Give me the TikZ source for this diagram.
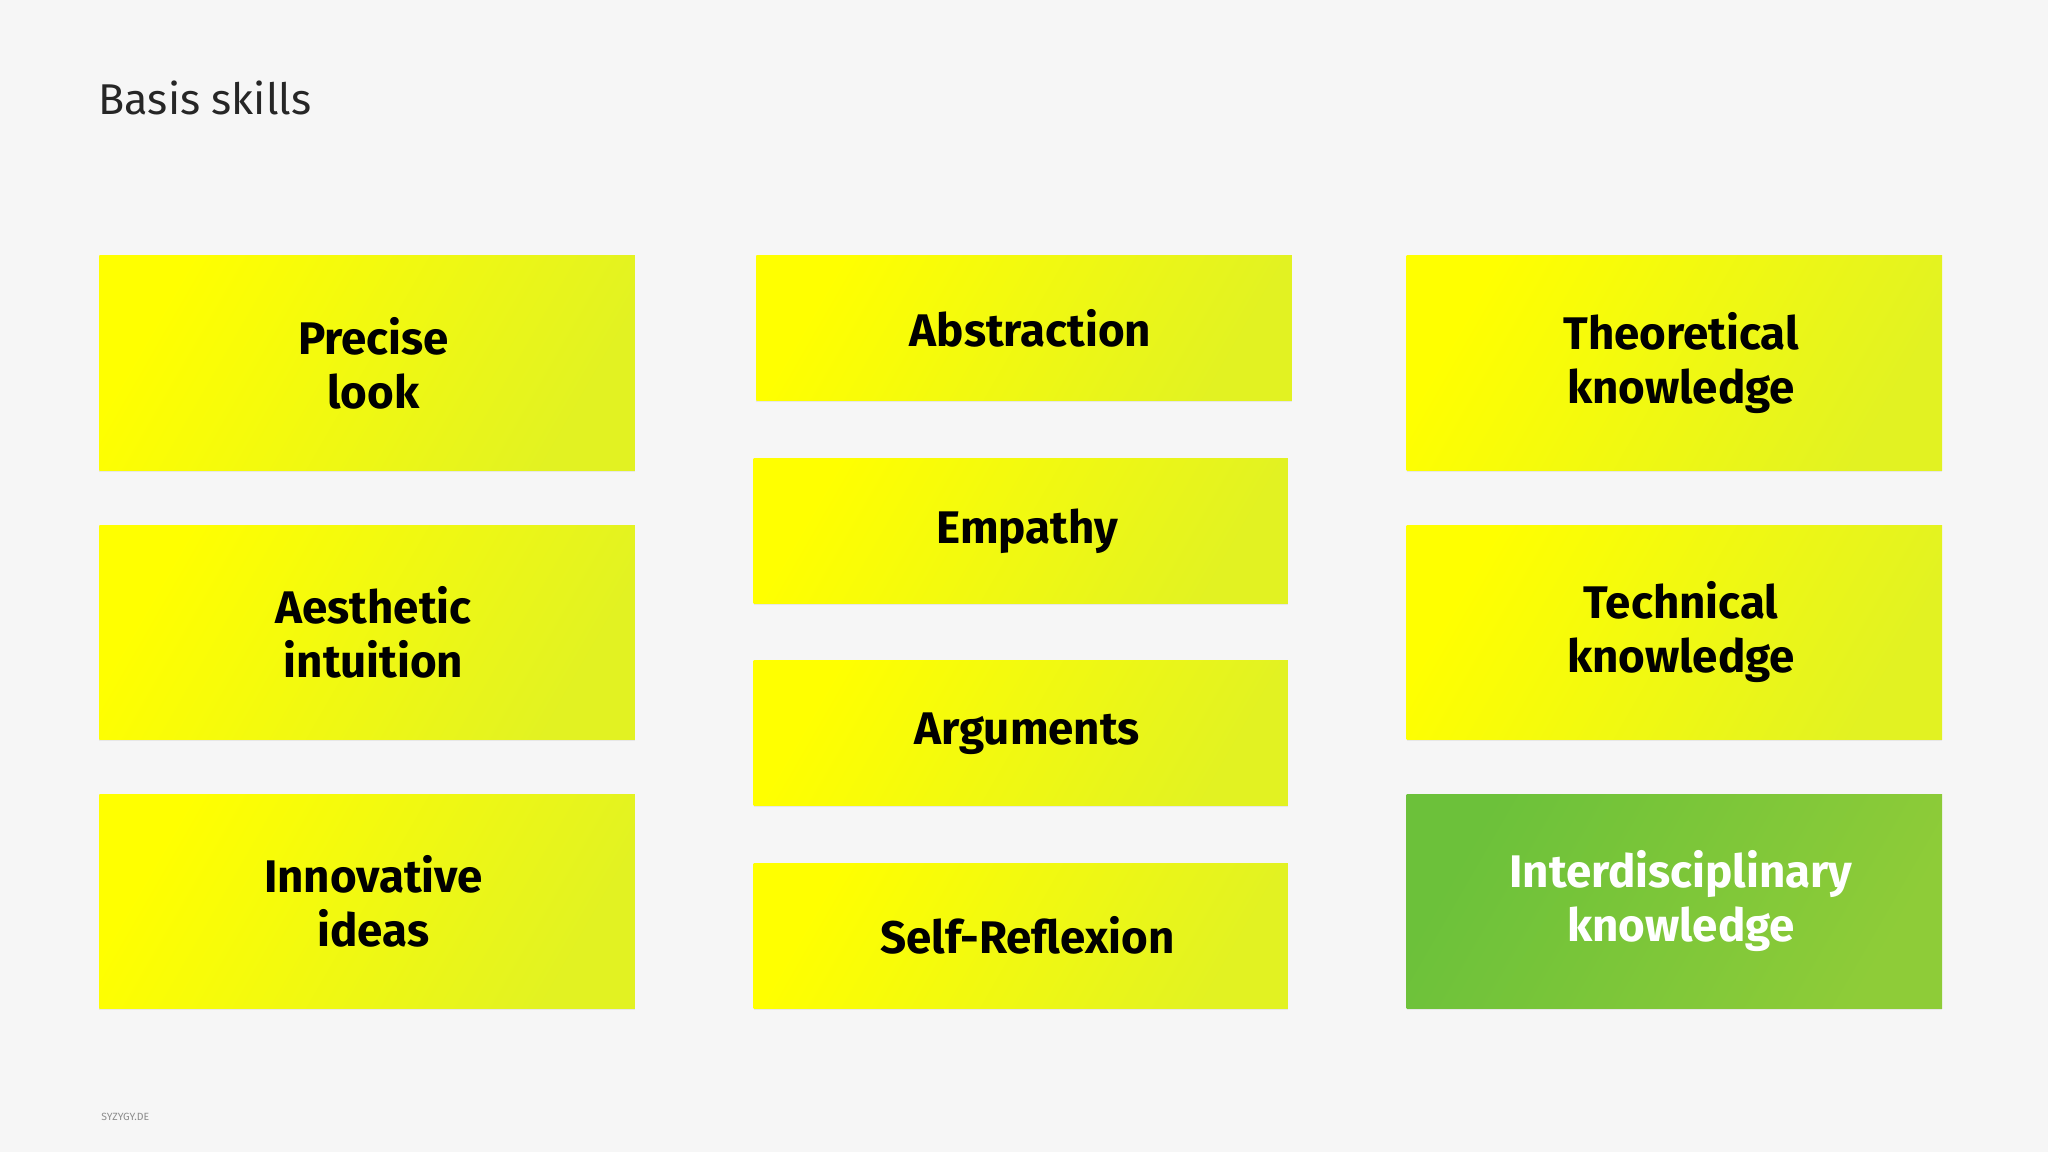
\documentclass[tikz,border=0pt]{standalone}
\usepackage{fontspec}
\setmainfont{Fira Sans}
\usetikzlibrary{shadows}
\definecolor{bg}{HTML}{F6F6F6}
\definecolor{ytop}{HTML}{FFFF00}
\definecolor{ybot}{HTML}{E2F222}
\definecolor{gtop}{HTML}{6CC13A}
\definecolor{gbot}{HTML}{8ECC38}
\tikzset{
 card/.style={inner sep=0pt, left color=ybot, right color=ytop, shading angle=-120,
   drop shadow={shadow xshift=0pt, shadow yshift=-1pt, opacity=0.12},
   font=\bfseries\fontsize{35}{41}\selectfont, text=black, align=center},
 gcard/.style={card, left color=gbot, right color=gtop, shading angle=-120, text=white}
}
\begin{document}
\begin{tikzpicture}[x=1pt,y=-1pt]
\fill[bg] (0,0) rectangle (1568,882);
\useasboundingbox (0,0) rectangle (1568,882);
\node[anchor=west, font=\fontsize{33}{38}\selectfont, text=black!85] (title) at (72,75) {Basis skills};
\node[anchor=west, font=\fontsize{8}{10}\selectfont, text=black!45] (foot) at (74,855) {SYZYGY.DE};
\newcommand\mycard[6]{\node[#1, minimum width=#4-#2, minimum height=#5-#3] (#6) at ({(#2+#4)/2},{(#3+#5)/2})}
\mycard{card}{76}{196}{486}{360}{a1}{\hspace*{10pt}Precise\\\hspace*{10pt}look};
\mycard{card}{76}{402}{486}{566}{a2}{\hspace*{10pt}Aesthetic\\\hspace*{10pt}intuition};
\mycard{card}{76}{608}{486}{772}{a3}{\hspace*{10pt}Innovative\\\hspace*{10pt}ideas};
\mycard{card}{579}{196}{989}{307}{b1}{\hspace*{10pt}Abstraction};
\mycard{card}{577}{351}{986}{462}{b2}{\hspace*{10pt}Empathy};
\mycard{card}{577}{506}{986}{617}{b3}{\hspace*{10pt}Arguments};
\mycard{card}{577}{661}{986}{772}{b4}{\hspace*{10pt}\raisebox{-12pt}{Self-Reflexion}};
\mycard{card}{1077}{196}{1487}{360}{c1}{\hspace*{10pt}Theoretical\\\hspace*{10pt}knowledge};
\mycard{card}{1077}{402}{1487}{566}{c2}{\hspace*{10pt}Technical\\\hspace*{10pt}knowledge};
\mycard{gcard}{1077}{608}{1487}{772}{c3}{\hspace*{10pt}Interdisciplinary\\\hspace*{10pt}knowledge};
\end{tikzpicture}
\end{document}
